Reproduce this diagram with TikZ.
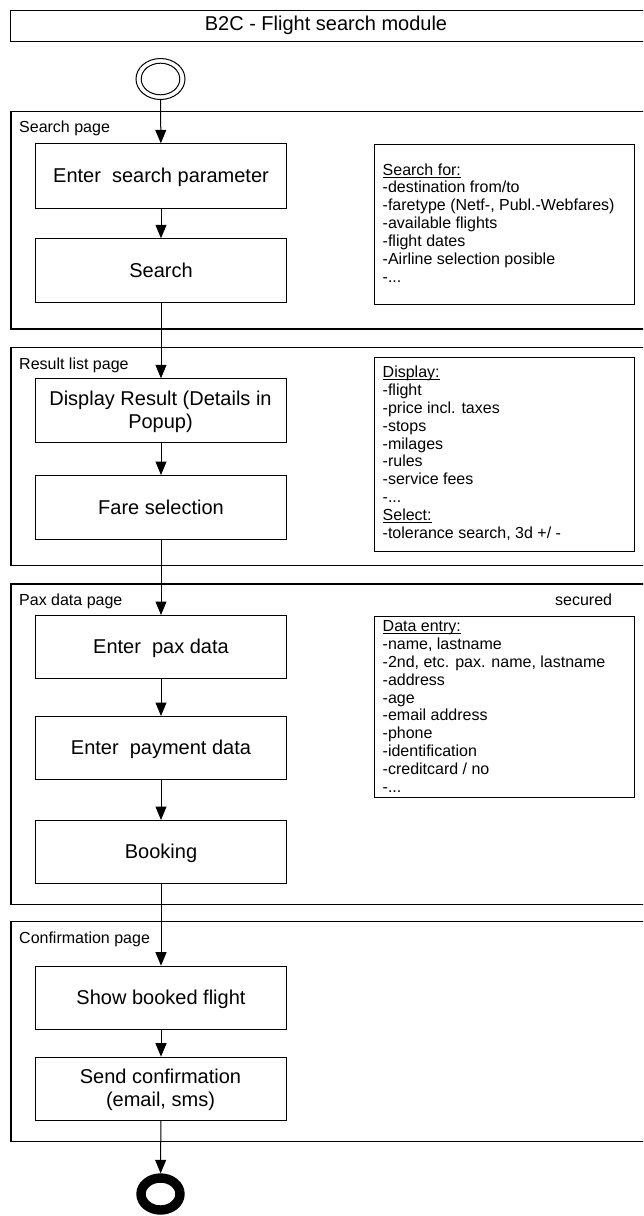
\documentclass[tikz,border=0pt]{standalone}
\usepackage{fontspec}
\setmainfont{Liberation Sans}
\usetikzlibrary{arrows.meta,shapes.geometric}
\newcommand\myul[1]{\leavevmode\setbox0\hbox{#1}\rlap{\rule[-2.3pt]{\wd0}{0.8pt}}\box0}
\begin{document}
\begin{tikzpicture}[x=1pt,y=-1pt,
  frame/.style={draw, line width=1.3pt, rectangle, anchor=north west, inner sep=0, minimum width=660pt},
  act/.style={draw, line width=1pt, rectangle, anchor=north west, inner sep=0, minimum width=251pt,
              font=\fontsize{20}{22}\selectfont, text height=13.6pt, text depth=0pt},
  note/.style={draw, line width=1pt, rectangle, anchor=north west, inner sep=0, minimum width=260pt},
  big/.style={font=\fontsize{20}{22}\selectfont, inner sep=0},
  small/.style={font=\fontsize{16}{17.85}\selectfont, inner sep=0},
  flow/.style={line width=1pt, -{Triangle[length=13.5pt,width=11pt]}},
]
\useasboundingbox (0,0) rectangle (643,1216);
\clip (0,0) rectangle (643,1216);

% title
\node[draw, line width=1pt, anchor=north west, inner sep=0, minimum width=660pt, minimum height=31.5pt] (title) at (10.3,9.5) {};
\node[big, anchor=base] (titletext) at (326,30.7) {B2C - Flight search module};

% start
\node[draw, ellipse, line width=1pt, inner sep=0, minimum width=49pt, minimum height=41pt] (start) at (160.5,79) {};
\node[draw, ellipse, line width=1pt, inner sep=0, minimum width=38.6pt, minimum height=31.6pt] (starti) at (160.5,79) {};

% page frames
\node[frame, minimum height=217.8pt] (p1) at (10.3,110.5) {};
\node[frame, minimum height=218.3pt] (p2) at (10.3,346.7) {};
\node[frame, minimum height=320.7pt] (p3) at (10.3,583.3) {};
\node[frame, minimum height=219.7pt] (p4) at (10.3,921) {};

\node[small, anchor=base west] (l1) at (19,132.5) {Search page};
\node[small, anchor=base west] (l2) at (19,369.5) {Result list page};
\node[small, anchor=base west] (l3) at (19,605.5) {Pax data page};
\node[small, anchor=base west] (l4) at (19,943) {Confirmation page};
\node[small, anchor=base west] (sec) at (555,605) {secured};

% activities
\node[act, minimum height=64.4pt] (b1) at (35,143.3) {Enter~~search parameter};
\node[act, minimum height=64pt] (b2) at (35,238.3) {Search};
\node[act, minimum height=64pt] (b3) at (35,378.3) {};
\node[big, anchor=base] (b3t) at (160.5,405.7) {\parbox[t]{250pt}{\centering\lineskiplimit=-20pt\baselineskip=22.6pt Display Result (Details in\\Popup)}};
\node[act, minimum height=64.3pt] (b4) at (35,475) {Fare selection};
\node[act, minimum height=63.3pt] (b5) at (35,615) {Enter~~pax data};
\node[act, minimum height=63.3pt] (b6) at (35,716) {Enter~~payment data};
\node[act, minimum height=63.3pt] (b7) at (35,820) {Booking};
\node[act, minimum height=63.3pt] (b8) at (35,965.7) {Show booked flight};
\node[act, minimum height=63.3pt] (b9) at (35,1056.7) {};
\node[big, anchor=base] (b9t) at (160.5,1083.7) {\parbox[t]{250pt}{\centering\lineskiplimit=-20pt\baselineskip=22.6pt Send confirmation\\(email, sms)}};

% end
\node[draw, ellipse, line width=9.4pt, inner sep=0, minimum width=39pt, minimum height=32pt] (end) at (160.5,1194) {};

% notes
\node[note, minimum height=160pt] (n1) at (373.5,144.3) {};
\node[small, anchor=base west] (n1t) at (382.5,175) {\parbox[t]{245pt}{\lineskiplimit=-20pt\baselineskip=17.85pt
\myul{Search for:}\\
-destination from/to\\
-faretype (Netf-, Publ.-Webfares)\\
-available flights\\
-flight dates\\
-Airline selection posible\\
-...}};

\node[note, minimum height=193.2pt] (n2) at (374,357.3) {};
\node[small, anchor=base west] (n2t) at (382.5,377.7) {\parbox[t]{245pt}{\lineskiplimit=-20pt\baselineskip=17.85pt
\myul{Display:}\\
-flight\\
-price incl. taxes\\
-stops\\
-milages\\
-rules\\
-service fees\\
-...\\
\myul{Select:}\\
-tolerance search, 3d +/ -}};

\node[note, minimum height=181pt] (n3) at (374,615.7) {};
\node[small, anchor=base west] (n3t) at (382.5,631.7) {\parbox[t]{245pt}{\lineskiplimit=-20pt\baselineskip=17.85pt
\myul{Data entry:}\\
-name, lastname\\
-2nd, etc. pax. name, lastname\\
-address\\
-age\\
-email address\\
-phone\\
-identification\\
-creditcard / no\\
-...}};

% flow
\draw[flow] (start) -- (b1);
\draw[flow] (b1) -- (b2);
\draw[flow] (b2) -- (b3);
\draw[flow] (b3) -- (b4);
\draw[flow] (b4) -- (b5);
\draw[flow] (b5) -- (b6);
\draw[flow] (b6) -- (b7);
\draw[flow] (b7) -- (b8);
\draw[flow] (b8) -- (b9);
\draw[flow] (b9) -- (end);
\end{tikzpicture}
\end{document}
